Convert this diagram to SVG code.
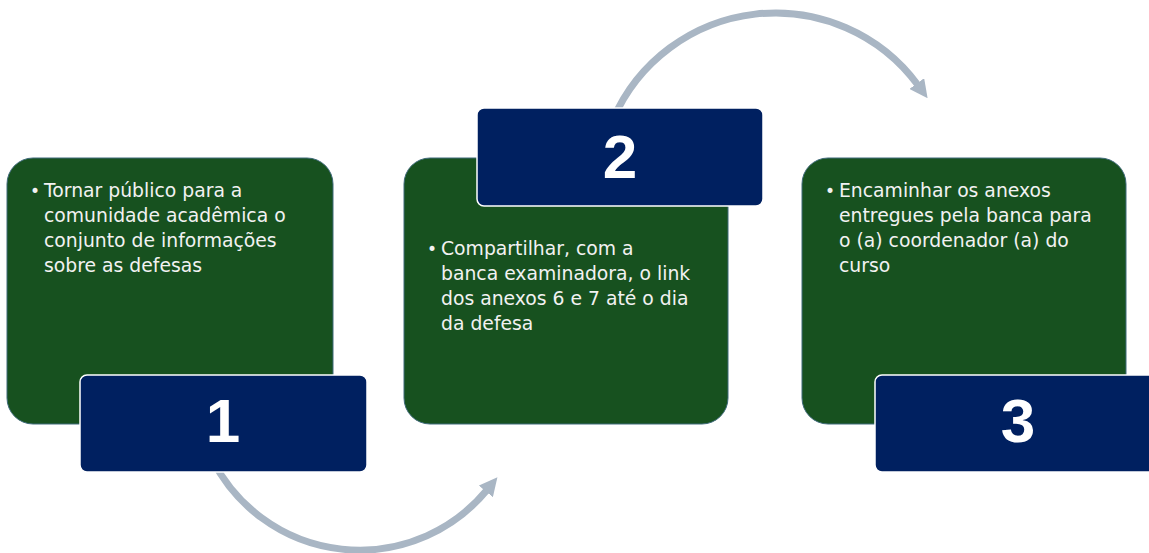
<svg xmlns="http://www.w3.org/2000/svg" width="1149" height="553" viewBox="0 0 1149 553">
<style>
.card{fill:#17511f;stroke:#3f6a7a;stroke-width:1}
.num{fill:#002060;stroke:#ffffff;stroke-width:1.5}
.txt{font-family:"DejaVu Sans",sans-serif;font-size:18.8px;fill:#f2f2f2}
.bul{font-family:"DejaVu Sans",sans-serif;font-size:17px;fill:#f2f2f2}
.n{font-family:"Liberation Sans",Arial,sans-serif;font-weight:bold;font-size:62px;fill:#ffffff;text-anchor:middle}
.arc{fill:none;stroke:#a9b6c4;stroke-width:7}
</style>
<defs>
<marker id="ah" viewBox="0 0 10 10" refX="1" refY="5" markerUnits="strokeWidth" markerWidth="2.6" markerHeight="2.6" orient="auto">
<path d="M0,0 L10,5 L0,10 z" fill="#a9b6c4"/>
</marker>
</defs>
<rect width="1149" height="553" fill="#ffffff"/>
<g id="connectors">
<path class="arc" d="M212.6,460 A165,165 0 0 0 487,490" marker-end="url(#ah)"/>
<path class="arc" d="M612.8,120 A177,177 0 0 1 917.9,85" marker-end="url(#ah)"/>
</g>
<g id="node1">
<rect class="card" x="7" y="158" width="326" height="266" rx="26"/>
<text class="bul" x="30" y="197">•</text>
<text class="txt" x="44" y="197">Tornar público para a</text>
<text class="txt" x="44" y="222">comunidade acadêmica o</text>
<text class="txt" x="44" y="247">conjunto de informações</text>
<text class="txt" x="44" y="272">sobre as defesas</text>
<rect class="num" x="80" y="375" width="287" height="97" rx="7"/>
<text class="n" x="223" y="442">1</text>
</g>
<g id="node2">
<rect class="card" x="404" y="158" width="324" height="266" rx="26"/>
<text class="bul" x="427" y="255">•</text>
<text class="txt" x="441" y="255">Compartilhar, com a</text>
<text class="txt" x="441" y="280">banca examinadora, o link</text>
<text class="txt" x="441" y="305">dos anexos 6 e 7 até o dia</text>
<text class="txt" x="441" y="330">da defesa</text>
<rect class="num" x="477" y="108" width="286" height="98" rx="7"/>
<text class="n" x="620" y="178">2</text>
</g>
<g id="node3">
<rect class="card" x="802" y="158" width="324" height="266" rx="26"/>
<text class="bul" x="825" y="197">•</text>
<text class="txt" x="839" y="197">Encaminhar os anexos</text>
<text class="txt" x="839" y="222">entregues pela banca para</text>
<text class="txt" x="839" y="247">o (a) coordenador (a) do</text>
<text class="txt" x="839" y="272">curso</text>
<rect class="num" x="875" y="375" width="286" height="97" rx="7"/>
<text class="n" x="1018" y="442">3</text>
</g>
</svg>
